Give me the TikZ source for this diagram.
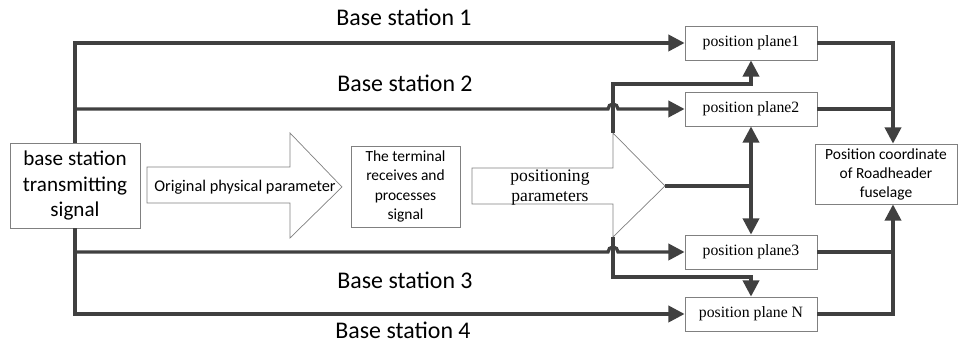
\documentclass[tikz,border=0pt]{standalone}
\usepackage{fontspec}
\setmainfont{Carlito}
\newfontfamily\timesfont{Liberation Serif}
\usepackage{tikz}
\usetikzlibrary{arrows.meta,positioning,calc}
\definecolor{linegray}{RGB}{64,64,64}
\definecolor{boxgray}{RGB}{128,128,128}

\begin{document}
\begin{tikzpicture}[x=0.025cm,y=0.025cm,
    box/.style={draw=boxgray,line width=0.6pt,fill=white,align=center,inner sep=1pt},
    plane/.style={box,minimum width=3.3cm,minimum height=0.85cm,font=\timesfont\fontsize{11.2}{13.5}\selectfont},
    conn/.style={linegray,line width=2.35pt},
    tip/.style={-{Triangle[length=11.5pt,width=11.5pt]}},
    bigarrow/.style={draw=boxgray,line width=0.5pt,fill=white},
    stlabel/.style={font=\fontsize{17}{20}\selectfont}]
  \useasboundingbox (0,0) rectangle (960,347);

  % Source, parameter arrow and terminal
  \node[box,minimum width=3.25cm,minimum height=2.125cm,font=\fontsize{15}{18}\selectfont] (bs) at (75,161.5) {base station\\transmitting\\signal};
  \draw[bigarrow] (147,180) -- (290,180) -- (290,214) -- (342,160) -- (290,109) -- (290,144) -- (147,144) -- cycle;
  \node[font=\fontsize{11.6}{13}\selectfont] (opp) at (245,160) {Original physical parameter};
  \node[box,minimum width=2.725cm,minimum height=2.025cm,font=\fontsize{11}{13.7}\selectfont] (term) at (405.5,160.5) {The terminal\\receives and\\processes\\signal};

  % Positioning parameters arrow
  \coordinate (pp-top) at (613,214);
  \coordinate (pp-bot) at (613,110);
  \coordinate (pp-tip) at (665,161);
  \draw[bigarrow] (472,179) -- (613,179) -- (pp-top) -- (pp-tip) -- (pp-bot) -- (613,143) -- (472,143) -- cycle;
  \node[font=\timesfont\fontsize{12.5}{14.2}\selectfont,align=center] (ppar) at (550,159) {positioning\\parameters};

  % Position planes and result
  \node[plane] (p1) at (751,304) {position plane1};
  \node[plane] (p2) at (751,238) {position plane2};
  \node[plane] (p3) at (751,95) {position plane3};
  \node[plane] (pN) at (751,33) {position plane N};
  \node[box,minimum width=3.55cm,minimum height=1.5cm,font=\fontsize{11}{13.5}\selectfont] (coord) at (886,173) {Position coordinate\\of Roadheader\\fuselage};

  % Base station lines
  \coordinate (t1) at (bs.north |- p1.west);
  \coordinate (t4) at (bs.south |- pN.west);
  \draw[conn,tip] (bs.north) -- (t1) -- (p1.west);
  \draw[conn,tip] (bs.north |- p2.west) -- ($(pp-top |- p2.west)+(-5,0)$) arc[start angle=180,end angle=0,radius=5] -- (p2.west);
  \draw[conn,tip] (bs.south |- p3.west) -- ($(pp-bot |- p3.west)+(-5,0)$) arc[start angle=180,end angle=0,radius=5] -- (p3.west);
  \draw[conn,tip] (bs.south) -- (t4) -- (pN.west);
  \node[stlabel] (bs1) at (404,329.5) {Base station 1};
  \node[stlabel] (bs2) at (405,264) {Base station 2};
  \node[stlabel] (bs3) at (405,67) {Base station 3};
  \node[stlabel] (bs4) at (403,17) {Base station 4};

  % Parameters to planes
  \draw[conn,tip] (pp-top) -- ++(0,49) -| (p1.south);
  \draw[conn,tip] (pp-bot) -- ++(0,-40) -| (pN.north);
  \draw[conn] (pp-tip) -- (pp-tip -| p2.south);
  \draw[conn,{Triangle[length=11.5pt,width=11.5pt]}-{Triangle[length=11.5pt,width=11.5pt]}] (p2.south) -- (p3.north);

  % Planes to fuselage coordinate
  \coordinate (mx) at (893,0);
  \draw[conn,tip] (p1.east) -| (coord.north -| mx);
  \draw[conn] (p2.east) -- (p2.east -| mx);
  \draw[conn,tip] (pN.east) -| (coord.south -| mx);
  \draw[conn] (p3.east) -- (p3.east -| mx);
\end{tikzpicture}
\end{document}
